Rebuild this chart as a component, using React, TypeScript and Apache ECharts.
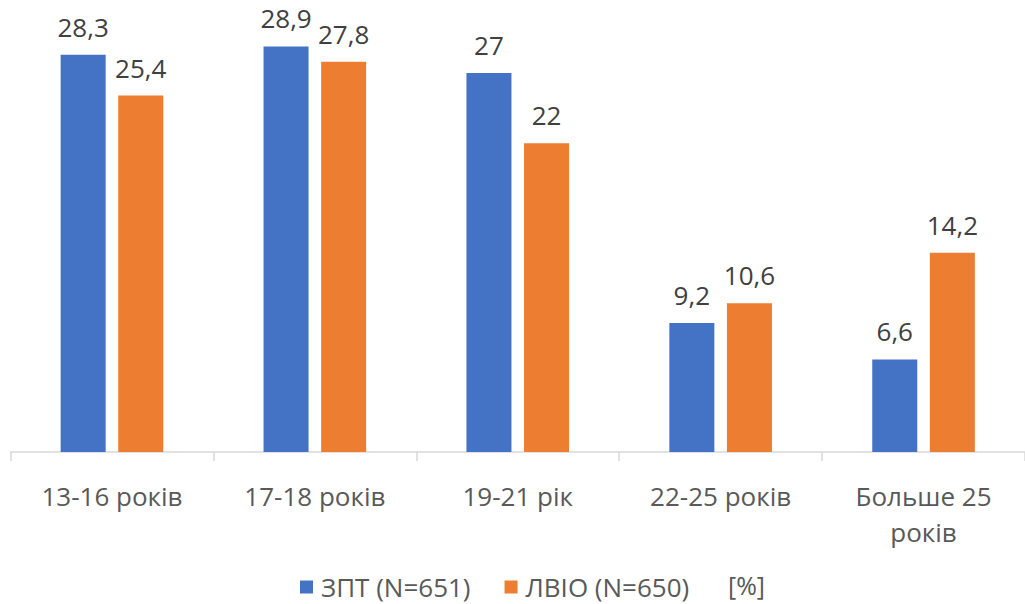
import React, { useEffect, useRef } from "react";
import * as echarts from "echarts";

const categories = ["13-16 років", "17-18 років", "19-21 рік", "22-25 років", "Больше 25\nроків"];
const seriesNames = ["ЗПТ (N=651)", "ЛВІО (N=650)"];
const zptValues = [28.3, 28.9, 27, 9.2, 6.6];
const lvioValues = [25.4, 27.8, 22, 10.6, 14.2];
const unitLabel = "[%]";

const FONT = "'Open Sans', 'Noto Sans', sans-serif";

export default function App() {
  const ref = useRef<HTMLDivElement>(null);
  useEffect(() => {
    if (!ref.current) return;
    const chart = echarts.init(ref.current, null, { renderer: "svg" });
    const fmt = (p: any) => String(p.value).replace(".", ",");
    chart.setOption({
      animation: false,
      textStyle: { fontFamily: FONT },
      grid: { left: 10.5, right: -3.5, top: 31, bottom: 152, containLabel: false },
      xAxis: {
        type: "category",
        data: categories,
        axisLine: { lineStyle: { color: "#d9d9d9", width: 1.5 } },
        axisTick: { show: true, length: 9, lineStyle: { color: "#d9d9d9", width: 1.5 } },
        axisLabel: { color: "#595959", fontSize: 26, fontFamily: FONT, margin: 26, lineHeight: 36, interval: 0 },
      },
      yAxis: { type: "value", min: 0, max: 30, show: false, splitLine: { show: false } },
      legend: {
        left: 300,
        top: 573,
        padding: 0,
        itemWidth: 13,
        itemHeight: 13,
        itemGap: 34,
        icon: "rect",
        textStyle: { color: "#595959", fontSize: 26, lineHeight: 28, fontFamily: FONT, padding: [0, 0, 0, 3] },
        data: seriesNames,
      },
      graphic: [
        {
          type: "text",
          left: 728,
          top: 571,
          style: { text: unitLabel, fill: "#595959", font: `25px ${FONT}`, lineHeight: 27 },
        },
      ],
      series: [
        {
          name: seriesNames[0],
          type: "bar",
          data: zptValues,
          barWidth: 45,
          barGap: "28%",
          itemStyle: { color: "#4472C4" },
          label: { show: true, position: "top", distance: 15, color: "#404040", fontSize: 26, fontFamily: FONT, formatter: fmt },
        },
        {
          name: seriesNames[1],
          type: "bar",
          data: lvioValues,
          barWidth: 45,
          itemStyle: { color: "#ED7D31" },
          label: { show: true, position: "top", distance: 15, color: "#404040", fontSize: 26, fontFamily: FONT, formatter: fmt },
        },
      ],
    });
    return () => chart.dispose();
  }, []);
  return <div ref={ref} style={{ width: 1025, height: 604, position: "absolute", left: 0, top: 0 }} />;
}
